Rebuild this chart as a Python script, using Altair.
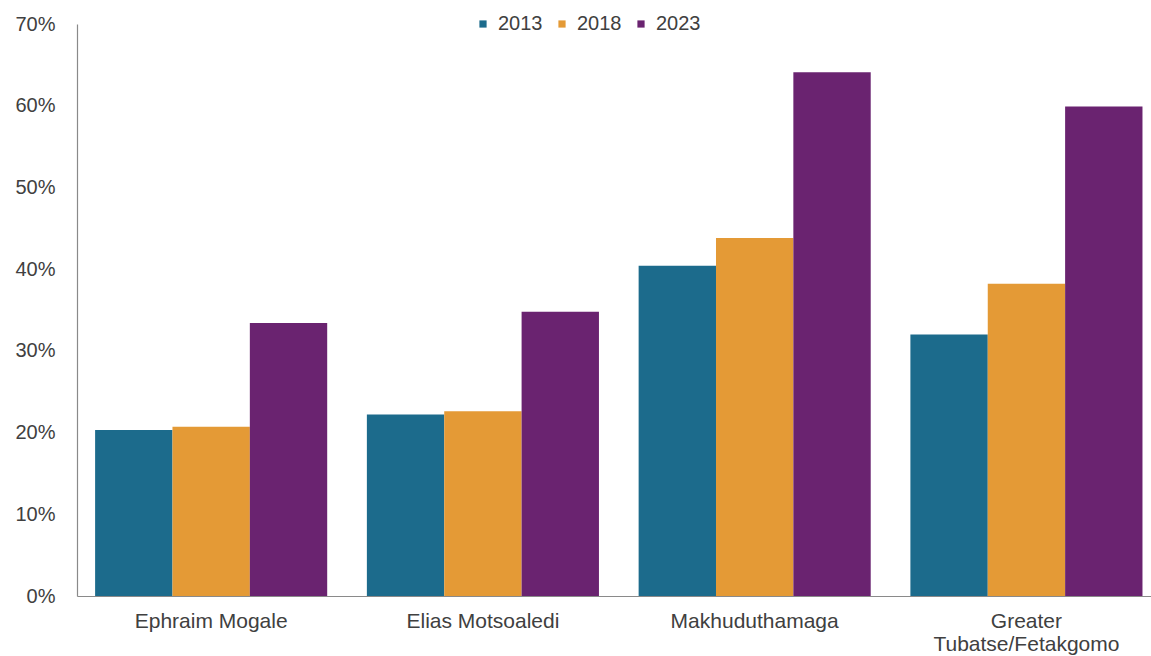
import altair as alt
import pandas as pd

# Municipalities along the x axis and the three survey years
municipalities = [
    "Ephraim Mogale",
    "Elias Motsoaledi",
    "Makhuduthamaga",
    "Greater Tubatse/Fetakgomo",
]
years = ["2013", "2018", "2023"]

# Share per municipality for each year (fractions)
share_2013 = [0.203, 0.222, 0.404, 0.320]
share_2018 = [0.207, 0.226, 0.438, 0.382]
share_2023 = [0.334, 0.348, 0.641, 0.599]

colors = ["#1c6b8c", "#e49a36", "#6a2370"]

rows = []
for series, year in zip([share_2013, share_2018, share_2023], years):
    for m, v in zip(municipalities, series):
        rows.append({"Municipality": m, "Year": year, "Share": v})
df = pd.DataFrame(rows)

text_color = "#404040"
font = "Liberation Sans"

bars = alt.Chart(df).mark_bar(strokeWidth=0).encode(
    x=alt.X(
        "Municipality:N",
        sort=municipalities,
        title=None,
        scale=alt.Scale(paddingInner=0.146, paddingOuter=0.049, align=0.68),
        axis=alt.Axis(
            labelAngle=0,
            ticks=False,
            tickSize=0,
            labelPadding=14,
            labelFontSize=21,
            labelFont=font,
            labelColor=text_color,
            labelLineHeight=23,
            labelLimit=400,
            domainColor="#8a8a8a",
            domainWidth=1.2,
            grid=False,
            labelExpr="datum.label == 'Greater Tubatse/Fetakgomo' ? ['Greater', 'Tubatse/Fetakgomo'] : datum.label",
        ),
    ),
    xOffset=alt.XOffset(
        "Year:N",
        sort=years,
        scale=alt.Scale(paddingInner=0, paddingOuter=0),
    ),
    y=alt.Y(
        "Share:Q",
        title=None,
        scale=alt.Scale(domain=[0, 0.7], nice=False),
        axis=alt.Axis(
            values=[0, 0.1, 0.2, 0.3, 0.4, 0.5, 0.6, 0.7],
            format=".0%",
            ticks=False,
            tickSize=0,
            labelPadding=22,
            labelFontSize=20,
            labelFont=font,
            labelColor=text_color,
            domainColor="#8a8a8a",
            domainWidth=1.2,
            grid=False,
        ),
    ),
    color=alt.Color(
        "Year:N",
        sort=years,
        scale=alt.Scale(domain=years, range=colors),
        legend=alt.Legend(
            title=None,
            orient="none",
            direction="horizontal",
            legendX=396,
            legendY=-10,
            symbolType="square",
            symbolSize=52,
            symbolStrokeWidth=0,
            labelFontSize=20,
            labelFont=font,
            labelColor=text_color,
            labelOffset=5,
            columnPadding=9,
        ),
    ),
)

chart = bars.properties(
    width=1074,
    height=572,
    autosize=alt.AutoSizeParams(type="none"),
    padding={"left": 77, "top": 24, "right": 0, "bottom": 60},
    background="white",
).configure_view(stroke=None)

chart.save("out.html", embed_options={"renderer": "svg", "actions": False})
